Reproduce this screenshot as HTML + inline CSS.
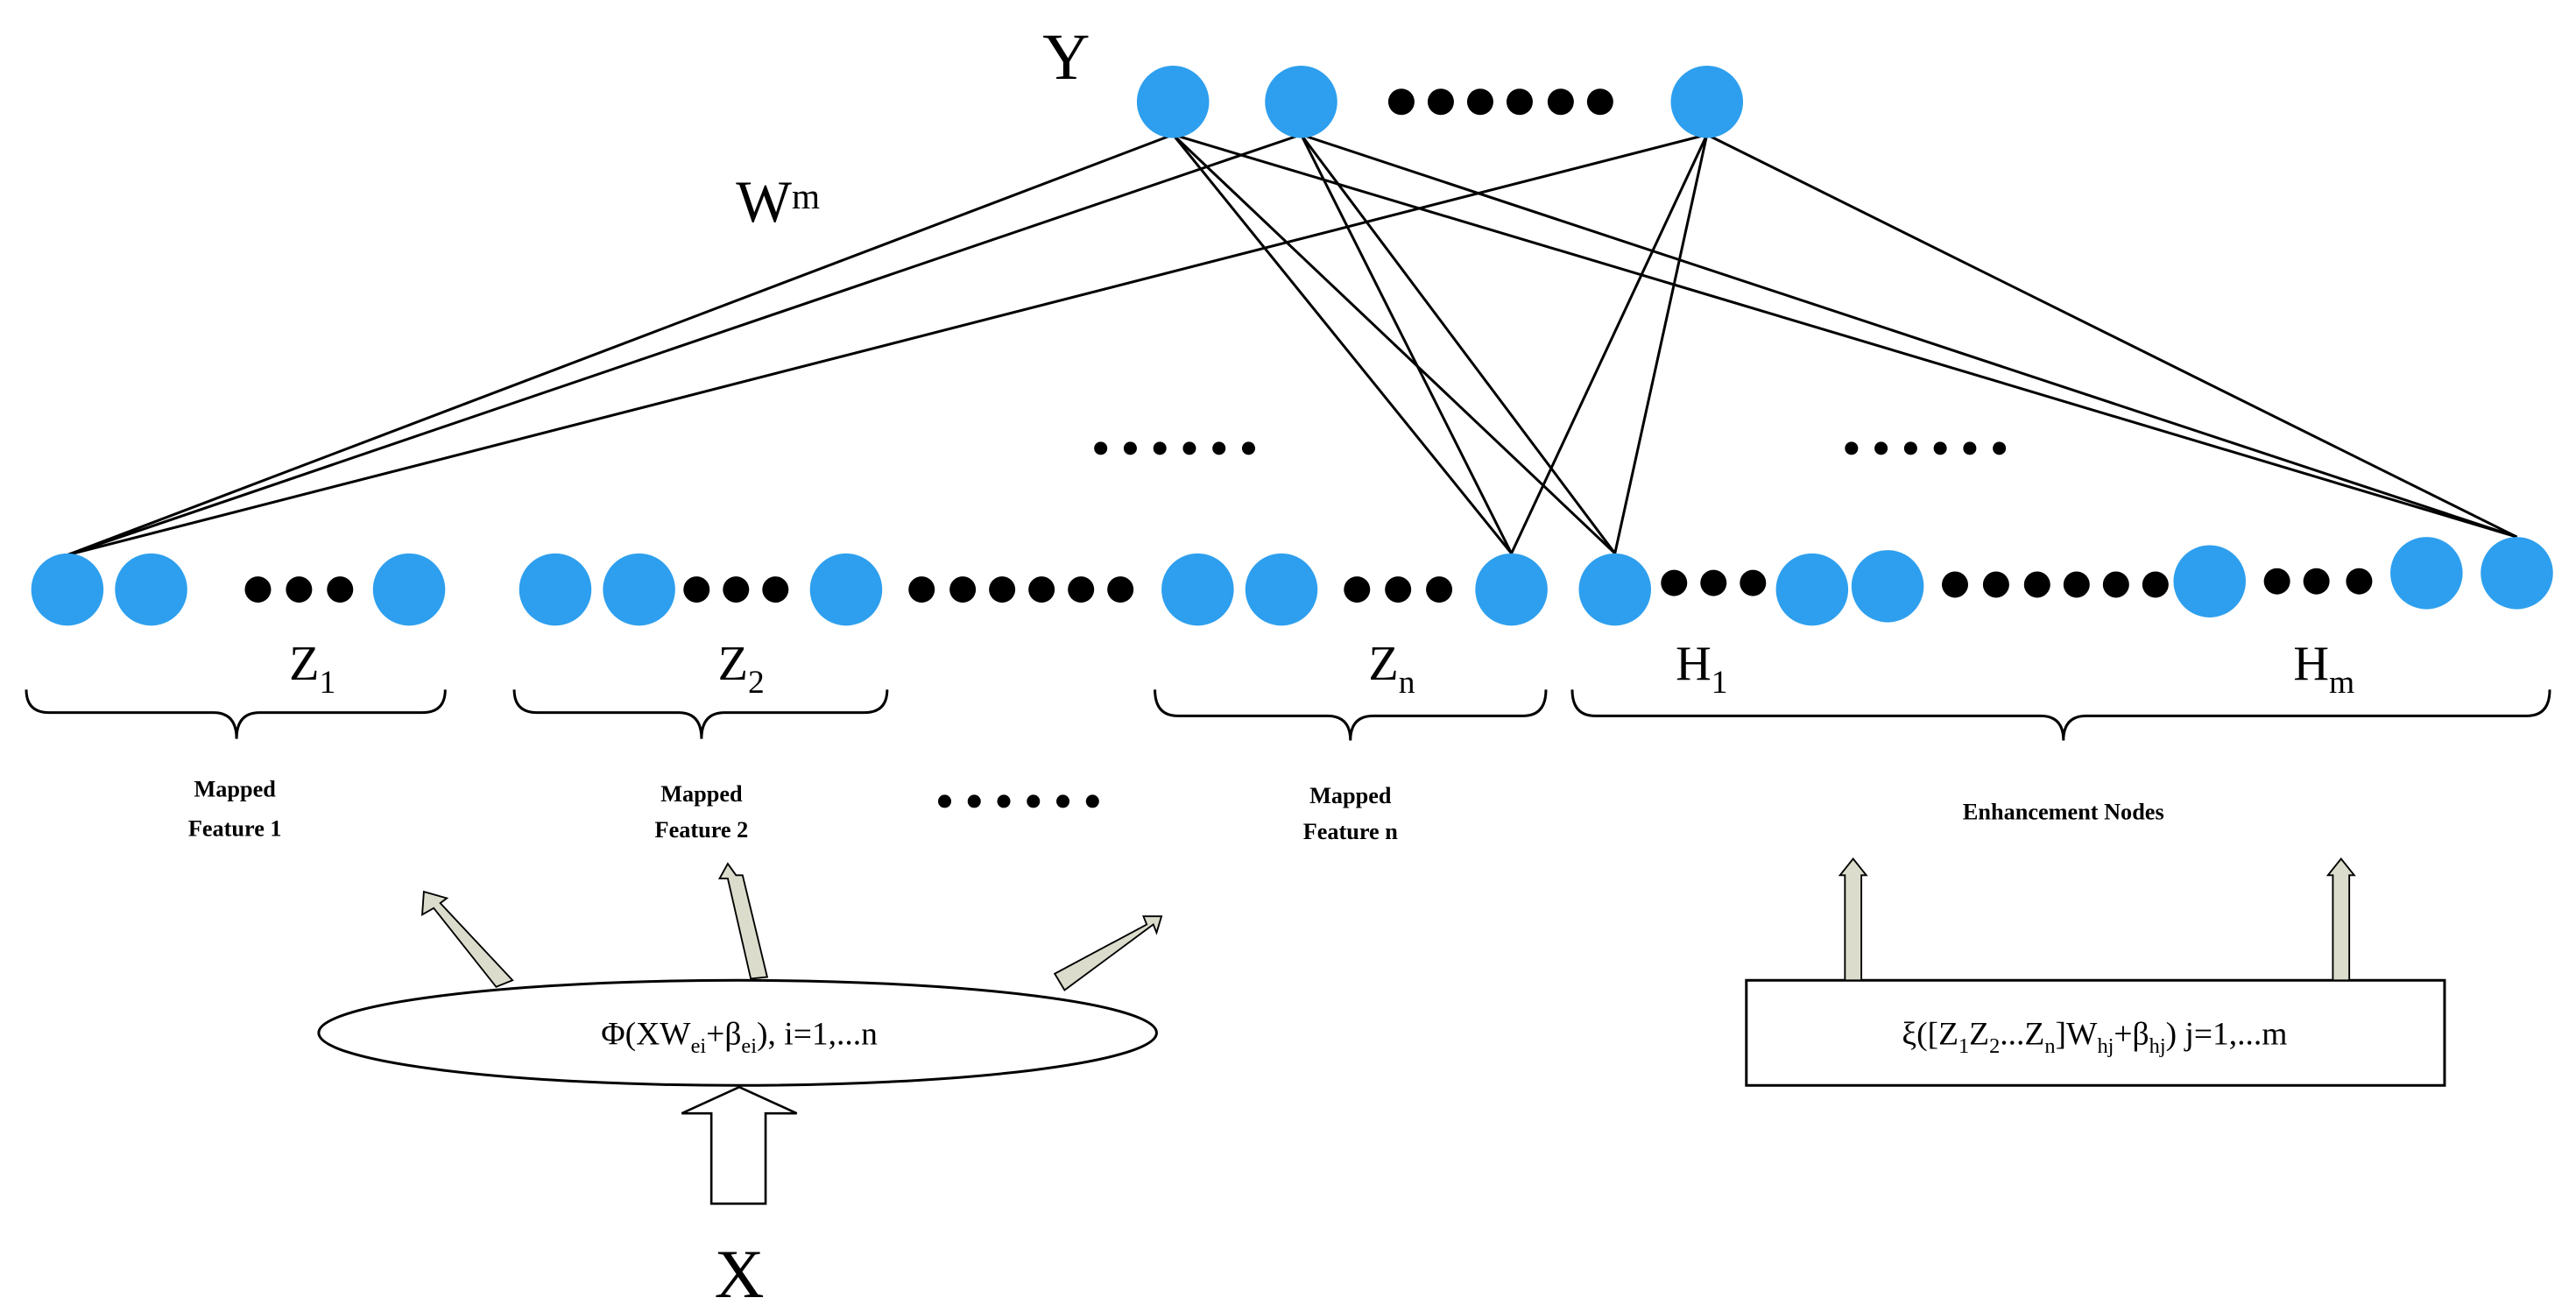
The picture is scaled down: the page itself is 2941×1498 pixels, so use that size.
<!DOCTYPE html>
<html><head><meta charset="utf-8"><style>html,body{margin:0;padding:0;background:#fff}svg{display:block}</style></head>
<body>
<svg width="2941" height="1498" viewBox="0 0 1568 799" preserveAspectRatio="none" xmlns="http://www.w3.org/2000/svg">
<rect width="1568" height="799" fill="#fff"/>
<g stroke="#000" stroke-width="1.6">
<line x1="714" y1="82" x2="41" y2="338"/><line x1="714" y1="82" x2="920" y2="337"/><line x1="714" y1="82" x2="983" y2="337"/><line x1="714" y1="82" x2="1532" y2="327"/>
<line x1="792" y1="82" x2="41" y2="338"/><line x1="792" y1="82" x2="920" y2="337"/><line x1="792" y1="82" x2="983" y2="337"/><line x1="792" y1="82" x2="1532" y2="327"/>
<line x1="1039" y1="82" x2="41" y2="338"/><line x1="1039" y1="82" x2="920" y2="337"/><line x1="1039" y1="82" x2="983" y2="337"/><line x1="1039" y1="82" x2="1532" y2="327"/>
</g>
<g fill="#2e9fee">
<circle cx="714" cy="62" r="22"/><circle cx="792" cy="62" r="22"/><circle cx="1039" cy="62" r="22"/>
<circle cx="41" cy="359" r="22"/><circle cx="92" cy="359" r="22"/><circle cx="249" cy="359" r="22"/>
<circle cx="338" cy="359" r="22"/><circle cx="389" cy="359" r="22"/><circle cx="515" cy="359" r="22"/>
<circle cx="729" cy="359" r="22"/><circle cx="780" cy="359" r="22"/><circle cx="920" cy="359" r="22"/>
<circle cx="983" cy="359" r="22"/><circle cx="1103" cy="359" r="22"/><circle cx="1149" cy="357" r="22"/>
<circle cx="1345" cy="354" r="22"/><circle cx="1477" cy="349" r="22"/><circle cx="1532" cy="349" r="22"/>
</g>
<g fill="#000">
<circle cx="853" cy="62" r="8"/><circle cx="877" cy="62" r="8"/><circle cx="901" cy="62" r="8"/><circle cx="925" cy="62" r="8"/><circle cx="950" cy="62" r="8"/><circle cx="974" cy="62" r="8"/>
<circle cx="157" cy="359" r="8"/><circle cx="182" cy="359" r="8"/><circle cx="207" cy="359" r="8"/>
<circle cx="424" cy="359" r="8"/><circle cx="448" cy="359" r="8"/><circle cx="472" cy="359" r="8"/>
<circle cx="561" cy="359" r="8"/><circle cx="586" cy="359" r="8"/><circle cx="610" cy="359" r="8"/><circle cx="634" cy="359" r="8"/><circle cx="658" cy="359" r="8"/><circle cx="682" cy="359" r="8"/>
<circle cx="826" cy="359" r="8"/><circle cx="851" cy="359" r="8"/><circle cx="876" cy="359" r="8"/>
<circle cx="1019" cy="355" r="8"/><circle cx="1043" cy="355" r="8"/><circle cx="1067" cy="355" r="8"/>
<circle cx="1190" cy="356" r="8"/><circle cx="1215" cy="356" r="8"/><circle cx="1240" cy="356" r="8"/><circle cx="1264" cy="356" r="8"/><circle cx="1288" cy="356" r="8"/><circle cx="1312" cy="356" r="8"/>
<circle cx="1386" cy="354" r="8"/><circle cx="1410" cy="354" r="8"/><circle cx="1436" cy="354" r="8"/>
<circle cx="670" cy="273" r="4"/><circle cx="688" cy="273" r="4"/><circle cx="706" cy="273" r="4"/><circle cx="724" cy="273" r="4"/><circle cx="742" cy="273" r="4"/><circle cx="760" cy="273" r="4"/>
<circle cx="1127" cy="273" r="4"/><circle cx="1145" cy="273" r="4"/><circle cx="1163" cy="273" r="4"/><circle cx="1181" cy="273" r="4"/><circle cx="1199" cy="273" r="4"/><circle cx="1217" cy="273" r="4"/>
<circle cx="575" cy="488" r="4"/><circle cx="593" cy="488" r="4"/><circle cx="611" cy="488" r="4"/><circle cx="629" cy="488" r="4"/><circle cx="647" cy="488" r="4"/><circle cx="665" cy="488" r="4"/>
</g>
<g font-family="Liberation Serif, serif" fill="#000">
<text x="649" y="48" font-size="40" text-anchor="middle">Y</text>
<text x="448" y="135" font-size="36">W<tspan font-size="22" dy="-8">m</tspan></text>
<text x="176" y="414" font-size="30">Z<tspan font-size="20" dy="8">1</tspan></text>
<text x="437" y="414" font-size="30">Z<tspan font-size="20" dy="8">2</tspan></text>
<text x="833" y="414" font-size="30">Z<tspan font-size="20" dy="8">n</tspan></text>
<text x="1020" y="414" font-size="30">H<tspan font-size="20" dy="8">1</tspan></text>
<text x="1396" y="414" font-size="30">H<tspan font-size="20" dy="8">m</tspan></text>
<text x="450" y="790" font-size="42" text-anchor="middle">X</text>
</g>
<g fill="none" stroke="#000" stroke-width="1.6">
<path d="M16,420 Q16,434 30,434 L130,434 Q144,434 144,450 Q144,434 158,434 L257,434 Q271,434 271,420"/>
<path d="M313,420 Q313,434 327,434 L413,434 Q427,434 427,450 Q427,434 441,434 L526,434 Q540,434 540,420"/>
<path d="M703,420 Q703,436 717,436 L808,436 Q822,436 822,451 Q822,436 836,436 L927,436 Q941,436 941,420"/>
<path d="M957,420 Q957,436 971,436 L1242,436 Q1256,436 1256,451 Q1256,436 1270,436 L1538,436 Q1552,436 1552,420"/>
</g>
<g font-family="Liberation Serif, serif" font-weight="bold" font-size="14" text-anchor="middle" fill="#000">
<text x="143" y="485">Mapped</text><text x="143" y="509">Feature 1</text>
<text x="427" y="488">Mapped</text><text x="427" y="510">Feature 2</text>
<text x="822" y="489">Mapped</text><text x="822" y="511">Feature n</text>
<text x="1256" y="499">Enhancement Nodes</text>
</g>
<ellipse cx="449" cy="629" rx="255" ry="32" fill="#fff" stroke="#000" stroke-width="1.6"/>
<text x="450" y="636" font-family="Liberation Serif, serif" font-size="20" text-anchor="middle">Φ(XW<tspan font-size="13" dy="5">ei</tspan><tspan dy="-5">+β</tspan><tspan font-size="13" dy="5">ei</tspan><tspan dy="-5">), i=1,...n</tspan></text>
<rect x="1063" y="597" width="425" height="64" fill="#fff" stroke="#000" stroke-width="1.6"/>
<text x="1275" y="636" font-family="Liberation Serif, serif" font-size="20" text-anchor="middle">ξ([Z<tspan font-size="13" dy="5">1</tspan><tspan dy="-5">Z</tspan><tspan font-size="13" dy="5">2</tspan><tspan dy="-5">...Z</tspan><tspan font-size="13" dy="5">n</tspan><tspan dy="-5">]W</tspan><tspan font-size="13" dy="5">hj</tspan><tspan dy="-5">+β</tspan><tspan font-size="13" dy="5">hj</tspan><tspan dy="-5">) j=1,...m</tspan></text>
<g fill="#dcdccc" stroke="#000" stroke-width="1">
<polygon points="312,597 302,601 264,553 257,557 258,543 272,547 268,550"/>
<polygon points="467,595 457,596 443,535 438,535 443,526 448,533 452,533"/>
<polygon points="648,603 642,593 698,563 696,558 707,558 704,568 702,563"/>
<polygon points="1123,597 1123,533 1120,533 1128,523 1136,533 1133,533 1133,597"/>
<polygon points="1420,597 1420,533 1417,533 1425,523 1433,533 1430,533 1430,597"/>
</g>
<polygon points="433,733 433,678 415,678 450,662 485,678 466,678 466,733" fill="#fff" stroke="#000" stroke-width="1.4"/>
</svg>
</body></html>
